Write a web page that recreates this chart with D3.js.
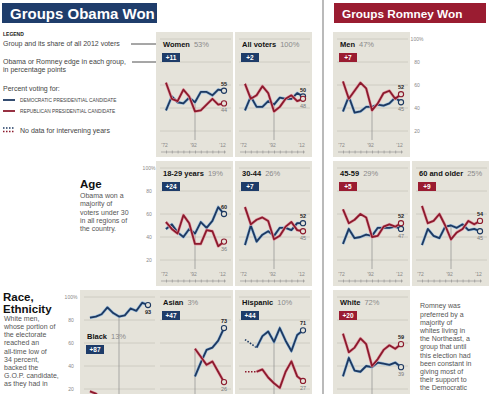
<!DOCTYPE html>
<html>
<head>
<meta charset="utf-8">
<title>Groups Obama Won / Groups Romney Won</title>
<script src="https://d3js.org/d3.v7.min.js"></script>
<style>
  body { margin:0; background:#fff; }
  svg { display:block; font-family:"Liberation Sans", Arial, sans-serif; }
</style>
</head>
<body>
<svg id="chart" width="500" height="394"></svg>
<script>
// election years on the x axis
const years = [1972,1976,1980,1984,1988,1992,1996,2000,2004,2008,2012];
const yearLabels = [1972,1992,2012];
const yTicks = [20,40,60,80,100];

const groupNames  = ["Women","All voters","Men","18-29 years","30-44","45-59","60 and older","Black","Asian","Hispanic","White"];
const groupShares = ["53%","100%","47%","19%","26%","29%","25%","13%","3%","10%","72%"];
const groupEdges  = ["+11","+2","+7","+24","+7","+5","+9","+87","+47","+44","+20"];
const groupWinner = ["D","D","R","D","D","R","R","D","D","D","R"];

// percent voting for the Democratic candidate (null = no data)
const demValues = [
  [38,50,45,44,49,45,54,54,51,56,55],
  [38,50,41,41,46,43,49,48,48,53,50],
  [37,50,36,37,41,41,43,42,44,49,45],
  [47,51,44,40,47,43,53,48,54,66,60],
  [33,50,36,42,45,41,48,48,46,52,52],
  [34,47,39,40,42,41,48,48,48,49,47],
  [33,47,41,39,49,50,48,51,46,47,45],
  [82,83,85,91,86,83,84,90,88,95,93],
  [null,null,null,null,null,31,43,54,56,62,73],
  [63,null,56,66,70,61,73,62,53,67,71],
  [31,47,36,35,40,39,43,42,41,43,39]
];
// percent voting for the Republican candidate
const repValues = [
  [62,48,46,56,50,37,38,43,48,43,44],
  [61,48,51,59,53,37,41,48,51,46,48],
  [63,48,55,62,57,38,44,53,55,48,52],
  [53,47,43,59,52,34,34,46,45,32,36],
  [66,51,55,57,54,38,41,49,53,46,45],
  [64,52,55,60,57,40,41,49,51,49,52],
  [67,52,54,60,50,38,44,47,54,51,54],
  [18,16,11,9,12,10,12,9,11,4,6],
  [null,null,null,null,null,55,48,41,44,35,26],
  [35,null,35,37,30,25,21,35,44,31,27],
  [68,52,56,64,59,40,46,54,58,55,59]
];

const legendLines = ["Group and its share of all 2012 voters","Obama or Romney edge in each group,","in percentage points"];
const ageText = ["Obama won a","majority of","voters under 30","in all regions of","the country."];
const raceText = ["White men,","whose portion of","the electorate","reached an","all-time low of","34 percent,","backed the","G.O.P. candidate,","as they had in"];
const romneyText = ["Romney was","preferred by a","majority of","whites living in","the Northeast, a","group that until","this election had","been constant in","giving most of","their support to","the Democratic"];

const BLUE = "#1d3961", RED = "#8c1a2d", BLUE_BADGE = "#1e3c69", RED_BADGE = "#9a1c31";
const BLUE_HALO = "#9fc0de", RED_HALO = "#e3a3ac";
const PANEL_BG = "#e5e3da", GRID = "#c9c7bd";
const H = 394;

const svg = d3.select("#chart");

// layout
const panelW = 77, panelH = 125;
const colX = {A:80, B:156, C:235, D:333, E:412};
const rowY = [32,161,290];
const panelSlots = [["B",0],["C",0],["D",0],["B",1],["C",1],["D",1],["E",1],["A",2],["B",2],["C",2],["D",2]];
const axisLabelX = [417,149,71];

// headers
svg.append("rect").attr("x",2).attr("y",3).attr("width",155).attr("height",20).attr("fill","#1f3d6b");
svg.append("text").attr("x",10).attr("y",18.5).attr("fill","#fff")
  .style("font-size","15px").style("font-weight","bold").text("Groups Obama Won");
svg.append("rect").attr("x",334).attr("y",3).attr("width",152).attr("height",20).attr("fill",RED_BADGE);
svg.append("text").attr("x",342).attr("y",18).attr("fill","#fff")
  .style("font-size","11.8px").style("font-weight","bold").text("Groups Romney Won");
svg.append("line").attr("x1",323).attr("x2",323).attr("y1",0).attr("y2",H)
  .attr("stroke","#a3a3a3").attr("stroke-width",1.5);

// legend
svg.append("text").attr("x",3).attr("y",36).style("font-size","5px").style("font-weight","bold").attr("fill","#222").text("LEGEND");
const legY = [46,64,72];
legendLines.forEach((t,i) => svg.append("text").attr("x",3).attr("y",legY[i]).style("font-size","7px").attr("fill","#444").text(t));
svg.append("defs").append("marker").attr("id","arr").attr("viewBox","0 0 6 6").attr("refX",5).attr("refY",3)
  .attr("markerWidth",4).attr("markerHeight",4).attr("orient","auto")
  .append("path").attr("d","M0,0L6,3L0,6Z").attr("fill","#222");
[[131,44],[132,62]].forEach(([x0,yy]) => svg.append("line").attr("x1",x0).attr("x2",161).attr("y1",yy).attr("y2",yy)
  .attr("stroke","#222").attr("stroke-width",0.8).attr("marker-end","url(#arr)"));
svg.append("text").attr("x",3).attr("y",91).style("font-size","7px").attr("fill","#444").text("Percent voting for:");
svg.append("line").attr("x1",3).attr("x2",15).attr("y1",100).attr("y2",100).attr("stroke",BLUE).attr("stroke-width",1.8);
svg.append("text").attr("x",20).attr("y",102).style("font-size","4.8px").attr("fill","#444").text("DEMOCRATIC PRESIDENTIAL CANDIDATE");
svg.append("line").attr("x1",3).attr("x2",15).attr("y1",111).attr("y2",111).attr("stroke",RED).attr("stroke-width",1.8);
svg.append("text").attr("x",20).attr("y",113).style("font-size","4.8px").attr("fill","#444").text("REPUBLICAN PRESIDENTIAL CANDIDATE");
svg.append("line").attr("x1",3).attr("x2",15).attr("y1",128).attr("y2",128).attr("stroke",BLUE).attr("stroke-width",1.6).attr("stroke-dasharray","1.5,1.5");
svg.append("line").attr("x1",3).attr("x2",15).attr("y1",131.5).attr("y2",131.5).attr("stroke",RED).attr("stroke-width",1.6).attr("stroke-dasharray","1.5,1.5");
svg.append("text").attr("x",20).attr("y",133).style("font-size","7px").attr("fill","#444").text("No data for intervening years");

// section texts
svg.append("text").attr("x",80).attr("y",188).style("font-size","11.5px").style("font-weight","bold").attr("fill","#111").text("Age");
ageText.forEach((t,i) => svg.append("text").attr("x",80).attr("y",198+i*8.3).style("font-size","7px").attr("fill","#555").text(t));
svg.append("text").attr("x",3).attr("y",301).style("font-size","11.5px").style("font-weight","bold").attr("fill","#111").text("Race,");
svg.append("text").attr("x",3).attr("y",313).style("font-size","11.5px").style("font-weight","bold").attr("fill","#111").text("Ethnicity");
raceText.forEach((t,i) => svg.append("text").attr("x",4).attr("y",321+i*8.15).style("font-size","7px").attr("fill","#555").text(t));
romneyText.forEach((t,i) => svg.append("text").attr("x",420).attr("y",308.3+i*8.2).style("font-size","7px").attr("fill","#555").text(t));

// y axis labels, one set per row
rowY.forEach((py,r) => {
  const y = d3.scaleLinear().domain([0,100]).range([py+122, py+7]);
  const ax = svg.append("g").attr("transform",`translate(${axisLabelX[r]},0)`)
    .call(d3.axisLeft(y).tickValues(yTicks).tickSize(0).tickPadding(0).tickFormat(d => d === 100 ? "100%" : d));
  ax.select(".domain").remove();
  ax.selectAll("text").attr("text-anchor","middle").attr("fill","#888")
    .style("font-size","5px").style("font-family","'Liberation Sans', Arial, sans-serif");
});

// panels
groupNames.forEach((name,i) => {
  const [col,row] = panelSlots[i];
  const px = colX[col], py = rowY[row];
  const x = d3.scaleLinear().domain([1972,2012]).range([px+10, px+68]);
  const y = d3.scaleLinear().domain([0,100]).range([py+122, py+7]);
  const g = svg.append("g");

  g.append("rect").attr("x",px).attr("y",py).attr("width",panelW).attr("height",panelH).attr("fill",PANEL_BG);
  g.selectAll("line.grid").data(yTicks).join("line").attr("class","grid")
    .attr("x1",px+4).attr("x2",px+panelW-2).attr("y1",d => y(d)).attr("y2",d => y(d))
    .attr("stroke",GRID).attr("stroke-width",0.8);

  const dem = demValues[i], rep = repValues[i];
  const at92 = years.indexOf(1992);
  const top92 = d3.max([dem[at92], rep[at92]]);
  g.append("line").attr("x1",x(1992)).attr("x2",x(1992)).attr("y1",y(top92)).attr("y2",Math.min(py+108,H))
    .attr("stroke","#8e8e8e").attr("stroke-width",0.7);

  // x axis: ticks every election plus three year labels (only where they fit on the page)
  if (py+120 < H) {
    const xa = g.append("g").attr("transform",`translate(0,${py+120})`)
      .call(d3.axisBottom(x).tickValues(years).tickSize(1.5).tickFormat(""));
    xa.select(".domain").attr("d",`M${x(1972)-5},0H${x(2012)+2}`).attr("stroke","#8a8a8a").attr("stroke-width",0.6);
    xa.selectAll(".tick line").attr("y1",-1.5).attr("stroke","#8a8a8a").attr("stroke-width",0.6);
    g.selectAll("text.yr").data(yearLabels).join("text").attr("class","yr")
      .attr("x",d => x(d)-1.5).attr("y",py+115).attr("text-anchor","middle")
      .style("font-size","5px").attr("fill","#888").text(d => "'" + String(d).slice(2));
  }

  // title, share and edge badge
  const titleY = name === "Black" ? py+49 : py+15;
  const tt = g.append("text").attr("x",px+7).attr("y",titleY).style("font-size","7.5px");
  tt.append("tspan").style("font-weight","bold").attr("fill","#111").text(name);
  tt.append("tspan").attr("fill","#8a8a8a").attr("dx",4).text(groupShares[i]);
  const isD = groupWinner[i] === "D";
  g.append("rect").attr("x",px+6).attr("y",titleY+6).attr("width",18).attr("height",9)
    .attr("fill",isD ? BLUE_BADGE : RED_BADGE);
  g.append("text").attr("x",px+15).attr("y",titleY+13.2).attr("text-anchor","middle").attr("fill","#fff")
    .style("font-size","6.5px").style("font-weight","bold").text(groupEdges[i]);

  // lines
  const series = [{v:dem, c:BLUE, h:BLUE_HALO}, {v:rep, c:RED, h:RED_HALO}];
  series.forEach(s => {
    const pts = years.map((yr,k) => ({yr, v:s.v[k]}));
    const lineGen = d3.line().x(d => x(d.yr)).y(d => y(d.v));
    const known = pts.filter(d => d.v != null);
    g.append("path").attr("d",lineGen(known)).attr("fill","none").attr("stroke",s.c)
      .attr("stroke-width",1.6).attr("stroke-dasharray","1.5,1.5");
    const solid = lineGen.defined(d => d.v != null);
    g.append("path").attr("d",solid(pts)).attr("fill","none").attr("stroke",s.h).attr("stroke-width",3).attr("stroke-linejoin","round");
    g.append("path").attr("d",solid(pts)).attr("fill","none").attr("stroke",s.c).attr("stroke-width",1.8).attr("stroke-linejoin","round");
  });
  series.forEach(s => {
    g.append("circle").attr("cx",x(2012)).attr("cy",y(s.v[10])).attr("r",2.6)
      .attr("fill",PANEL_BG).attr("stroke",s.c).attr("stroke-width",1.1);
  });

  // end values
  const dEnd = dem[10], rEnd = rep[10];
  const hiV = Math.max(dEnd,rEnd), loV = Math.min(dEnd,rEnd);
  const hiY = hiV > 85 ? y(hiV)+9 : y(hiV)-5, loY = y(loV)+9;
  g.append("text").attr("x",x(2012)+3).attr("y",hiY).attr("text-anchor","end")
    .style("font-size","5.5px").style("font-weight","bold").attr("fill","#222").text(hiV);
  if (loY < H - 2) {
    g.append("text").attr("x",x(2012)+3).attr("y",loY).attr("text-anchor","end")
      .style("font-size","5.5px").attr("fill","#7a7a7a").text(loV);
  }
});
</script>
</body>
</html>
